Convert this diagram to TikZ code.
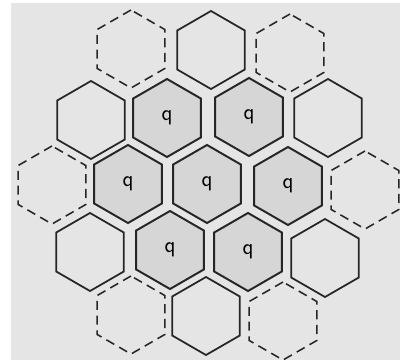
\documentclass[tikz,border=0pt]{standalone}
\usepackage{tikz}
\usetikzlibrary{shapes.geometric}
\colorlet{paper}{black!10}
\colorlet{pencil}{black!85}
\colorlet{shade}{black!16}

\tikzset{
  cell/.style={regular polygon, regular polygon sides=6, shape border rotate=30,
    minimum size=1.95cm, inner sep=0pt, outer sep=0pt, draw=pencil, line width=1.25pt},
  qcell/.style={cell, fill=shade, line width=1.4pt,
    font=\sffamily\fontsize{16}{16}\selectfont},
  solidcell/.style={cell, fill=paper},
  dashcell/.style={cell, fill=paper, line width=1.1pt, dash pattern=on 6.5pt off 4pt}
}

\begin{document}
\begin{tikzpicture}[x=0.025cm, y=-0.025cm]
        \useasboundingbox (0,0) rectangle (400,360);
        \fill[paper] (11,3) rectangle (400,360);

        % inner flower (shaded)
        \node[qcell] (qC)  at (207,184) {q};
        \node[qcell] (qL)  at (128,184) {q};
        \node[qcell] (qR)  at (288,186) {q};
        \node[qcell] (qUL) at (167,118) {q};
        \node[qcell] (qUR) at (249,117) {q};
        \node[qcell] (qDL) at (170,250) {q};
        \node[qcell] (qDR) at (248,252) {q};

        % outer ring, solid
        \node[solidcell] (sU)  at (211,50)  {};
        \node[solidcell] (sUL) at (91,120)  {};
        \node[solidcell] (sUR) at (328,118) {};
        \node[solidcell] (sDL) at (90,252)  {};
        \node[solidcell] (sDR) at (325,258) {};
        \node[solidcell] (sD)  at (206,316) {};

        % outer ring, dashed
        \node[dashcell] (dUL) at (131,49)  {};
        \node[dashcell] (dUR) at (290,53)  {};
        \node[dashcell] (dL)  at (52,185)  {};
        \node[dashcell] (dR)  at (365,190) {};
        \node[dashcell] (dDL) at (131,315) {};
        \node[dashcell] (dDR) at (283,321) {};
    \end{tikzpicture}
\end{document}
